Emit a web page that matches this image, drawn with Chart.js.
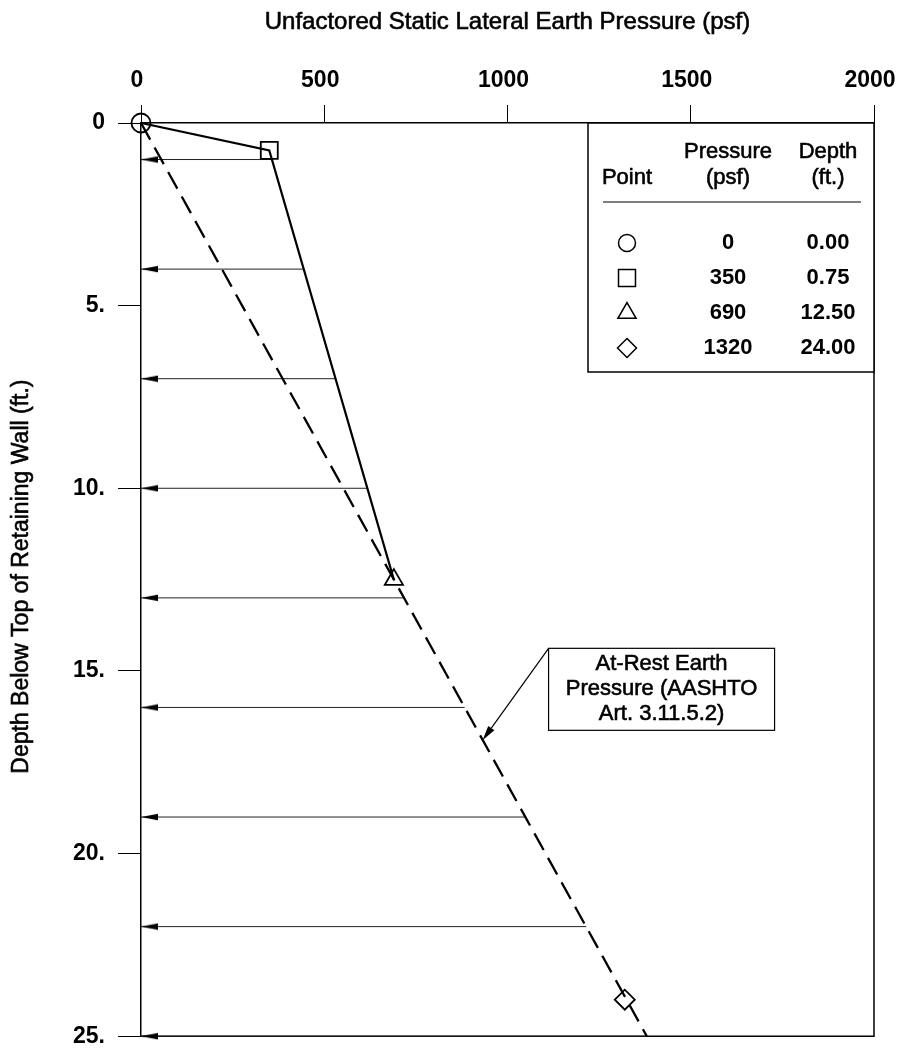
<!DOCTYPE html>
<html>
<head>
<meta charset="utf-8">
<script src="https://cdn.jsdelivr.net/npm/chart.js@4.4.0/dist/chart.umd.min.js"></script>
<style>
html, body { margin: 0; padding: 0; background: #fff; }
#wrap { width: 899px; height: 1050px; }
</style>
</head>
<body>
<div id="wrap"><canvas id="pressure"></canvas></div>
<script>
const xTicks = [0, 500, 1000, 1500, 2000];
const yTicks = [0, 5, 10, 15, 20, 25];

// design points (also listed in the table)
const pointSymbols = ['circle', 'rect', 'triangle', 'rectRot'];
const pointPressure = [0, 350, 690, 1320];
const pointDepth = [0, 0.75, 12.5, 24];
const pointPressureText = ['0', '350', '690', '1320'];
const pointDepthText = ['0.00', '0.75', '12.50', '24.00'];

// at-rest line (dashed)
const atRestPressure = [0, 1380];
const atRestDepth = [0, 25];

// load arrows, pressure where each arrow starts
const arrowDepth = [1, 4, 7, 10, 13, 16, 19, 22, 25];
const arrowPressure = [357, 444, 531, 618, 718, 883, 1049, 1215, 1380];

const xTitle = 'Unfactored Static Lateral Earth Pressure (psf)';
const yTitle = 'Depth Below Top of Retaining Wall (ft.)';
const noteLines = ['At-Rest Earth', 'Pressure (AASHTO', 'Art. 3.11.5.2)'];
const notePoint = { x: 932, y: 16.9 };

const FONT = '"Liberation Sans", Arial, sans-serif';

function arrowHead() {
    const c = document.createElement('canvas');
    c.width = 36;
    c.height = 8;
    const g = c.getContext('2d');
    g.fillStyle = '#000';
    g.beginPath();
    g.moveTo(18, 4);
    g.lineTo(35, 0.7);
    g.lineTo(35, 7.3);
    g.closePath();
    g.fill();
    return c;
}
const arrowImg = arrowHead();

// text a little heavier than plain regular
function heavyText(ctx, t, x, y) {
    ctx.fillText(t, x, y);
    ctx.strokeText(t, x, y);
}

function symbol(ctx, style, r, x, y) {
    ctx.beginPath();
    if (style === 'circle') {
        ctx.arc(x, y, r, 0, Math.PI * 2);
    } else if (style === 'rect') {
        const s = r * Math.SQRT1_2;
        ctx.rect(x - s, y - s, 2 * s, 2 * s);
    } else if (style === 'triangle') {
        ctx.moveTo(x, y - r);
        ctx.lineTo(x + r * 0.866, y + r * 0.5);
        ctx.lineTo(x - r * 0.866, y + r * 0.5);
        ctx.closePath();
    } else {
        ctx.moveTo(x, y - r);
        ctx.lineTo(x + r, y);
        ctx.lineTo(x, y + r);
        ctx.lineTo(x - r, y);
        ctx.closePath();
    }
    ctx.stroke();
}

// right and bottom edges of the frame, plus the axis titles
const framePlugin = {
    id: 'frame',
    beforeDatasetsDraw(chart) {
        const { ctx, chartArea: a } = chart;
        ctx.save();
        ctx.strokeStyle = '#000';
        ctx.lineWidth = 1.5;
        ctx.beginPath();
        ctx.moveTo(a.right, a.top);
        ctx.lineTo(a.right, a.bottom);
        ctx.lineTo(a.left, a.bottom);
        ctx.stroke();

        ctx.fillStyle = '#000';
        ctx.lineWidth = 0.6;
        ctx.textAlign = 'center';
        ctx.textBaseline = 'middle';
        ctx.font = '24px ' + FONT;
        heavyText(ctx, xTitle, (a.left + a.right) / 2, 22);
        ctx.translate(22, (a.top + a.bottom) / 2 - 3);
        ctx.rotate(-Math.PI / 2);
        ctx.font = '23px ' + FONT;
        heavyText(ctx, yTitle, 0, 0);
        ctx.restore();
    }
};

const tablePlugin = {
    id: 'pointTable',
    afterDraw(chart) {
        const { ctx, chartArea: a } = chart;
        const w = 286, h = 249;
        const left = a.right - w, top = a.top;
        const c1 = left + 39, c2 = left + 140, c3 = left + 240;
        ctx.save();
        ctx.fillStyle = '#fff';
        ctx.fillRect(left, top, w, h);
        ctx.strokeStyle = '#000';
        ctx.lineWidth = 1.5;
        ctx.strokeRect(left, top, w, h);

        ctx.fillStyle = '#000';
        ctx.textAlign = 'center';
        ctx.textBaseline = 'middle';
        ctx.font = '22px ' + FONT;
        ctx.lineWidth = 0.6;
        heavyText(ctx, 'Point', c1, top + 55);
        heavyText(ctx, 'Pressure', c2, top + 29);
        heavyText(ctx, '(psf)', c2, top + 55);
        heavyText(ctx, 'Depth', c3, top + 29);
        heavyText(ctx, '(ft.)', c3, top + 55);

        ctx.lineWidth = 1.2;
        ctx.beginPath();
        ctx.moveTo(left + 15, top + 79);
        ctx.lineTo(left + 273, top + 79);
        ctx.stroke();

        ctx.font = 'bold 22px ' + FONT;
        const radii = [8.5, 12, 10.5, 9.5];
        for (let i = 0; i < pointSymbols.length; i++) {
            const ry = top + 120 + i * 35;
            ctx.lineWidth = 1.5;
            symbol(ctx, pointSymbols[i], radii[i], c1, ry);
            ctx.fillText(pointPressureText[i], c2, ry);
            ctx.fillText(pointDepthText[i], c3, ry);
        }
        ctx.restore();
    }
};

const notePlugin = {
    id: 'note',
    afterDraw(chart) {
        const { ctx, scales } = chart;
        const tx = scales.x.getPixelForValue(notePoint.x);
        const ty = scales.y.getPixelForValue(notePoint.y);
        const bx = tx + 66, by = ty - 92, bw = 226, bh = 82;
        ctx.save();
        ctx.strokeStyle = '#000';
        ctx.fillStyle = '#fff';
        ctx.lineWidth = 1.2;
        ctx.fillRect(bx, by, bw, bh);
        ctx.strokeRect(bx, by, bw, bh);

        // leader with arrow head
        const ang = Math.atan2(ty - by, tx - bx);
        const hx = tx - Math.cos(ang) * 15, hy = ty - Math.sin(ang) * 15;
        ctx.beginPath();
        ctx.moveTo(bx, by);
        ctx.lineTo(hx, hy);
        ctx.stroke();
        ctx.fillStyle = '#000';
        ctx.beginPath();
        ctx.moveTo(tx, ty);
        ctx.lineTo(hx - Math.sin(ang) * 3.8, hy + Math.cos(ang) * 3.8);
        ctx.lineTo(hx + Math.sin(ang) * 3.8, hy - Math.cos(ang) * 3.8);
        ctx.closePath();
        ctx.fill();

        ctx.font = '22px ' + FONT;
        ctx.lineWidth = 0.6;
        ctx.textAlign = 'center';
        ctx.textBaseline = 'middle';
        noteLines.forEach((t, i) => heavyText(ctx, t, bx + bw / 2, by + 16 + i * 25));
        ctx.restore();
    }
};

const datasets = [];

datasets.push({
    label: 'points',
    data: pointPressure.map((p, i) => ({ x: p, y: pointDepth[i] })),
    showLine: false,
    pointStyle: pointSymbols,
    pointRadius: [9.5, 12, 10.5, 10],
    pointBorderWidth: 1.8,
    pointBorderColor: '#000',
    pointBackgroundColor: 'rgba(255,255,255,0)',
    clip: false
});

datasets.push({
    label: 'envelope',
    data: pointPressure.slice(0, 3).map((p, i) => ({ x: p, y: pointDepth[i] })),
    showLine: true,
    borderColor: '#000',
    borderWidth: 2.2,
    pointRadius: 0
});

datasets.push({
    label: 'at rest',
    data: atRestPressure.map((p, i) => ({ x: p, y: atRestDepth[i] })),
    showLine: true,
    borderColor: '#000',
    borderWidth: 2.3,
    borderDash: [19, 9],
    pointRadius: 0
});

arrowDepth.forEach((d, i) => {
    datasets.push({
        label: 'arrow ' + d,
        data: [{ x: arrowPressure[i], y: d }, { x: 0, y: d }],
        showLine: true,
        borderColor: '#222',
        borderWidth: 1,
        pointRadius: [0, 10],
        pointStyle: arrowImg,
        clip: false
    });
});

const ctx = document.getElementById('pressure').getContext('2d');
new Chart(ctx, {
    type: 'scatter',
    data: { datasets: datasets },
    options: {
        responsive: true,
        maintainAspectRatio: false,
        animation: false,
        events: [],
        layout: { padding: { left: 0, top: 0, right: 25, bottom: 10 } },
        plugins: {
            legend: { display: false },
            tooltip: { enabled: false }
        },
        scales: {
            x: {
                type: 'linear',
                position: 'top',
                min: 0,
                max: 2000,
                afterBuildTicks: s => { s.ticks = xTicks.map(v => ({ value: v })); },
                afterFit: s => { s.height = 123; s.paddingLeft = 0; s.paddingRight = 0; },
                ticks: {
                    color: '#000',
                    padding: 11,
                    maxRotation: 0,
                    labelOffset: -4,
                    callback: v => String(v),
                    font: { family: FONT, size: 23, weight: 'bold' }
                },
                grid: { drawOnChartArea: false, tickLength: 18, color: '#000', lineWidth: 1 },
                border: { color: '#000', width: 1.5 }
            },
            y: {
                type: 'linear',
                reverse: true,
                min: 0,
                max: 25,
                afterBuildTicks: s => { s.ticks = yTicks.map(v => ({ value: v })); },
                afterFit: s => { s.width = 141; s.paddingTop = 0; s.paddingBottom = 0; },
                ticks: {
                    color: '#000',
                    padding: 13,
                    callback: v => (v === 0 ? '0' : v + '.'),
                    font: { family: FONT, size: 23, weight: 'bold' }
                },
                grid: { drawOnChartArea: false, tickLength: 23, color: '#000', lineWidth: 1 },
                border: { color: '#000', width: 1.5 }
            }
        }
    },
    plugins: [framePlugin, tablePlugin, notePlugin]
});
</script>
</body>
</html>
